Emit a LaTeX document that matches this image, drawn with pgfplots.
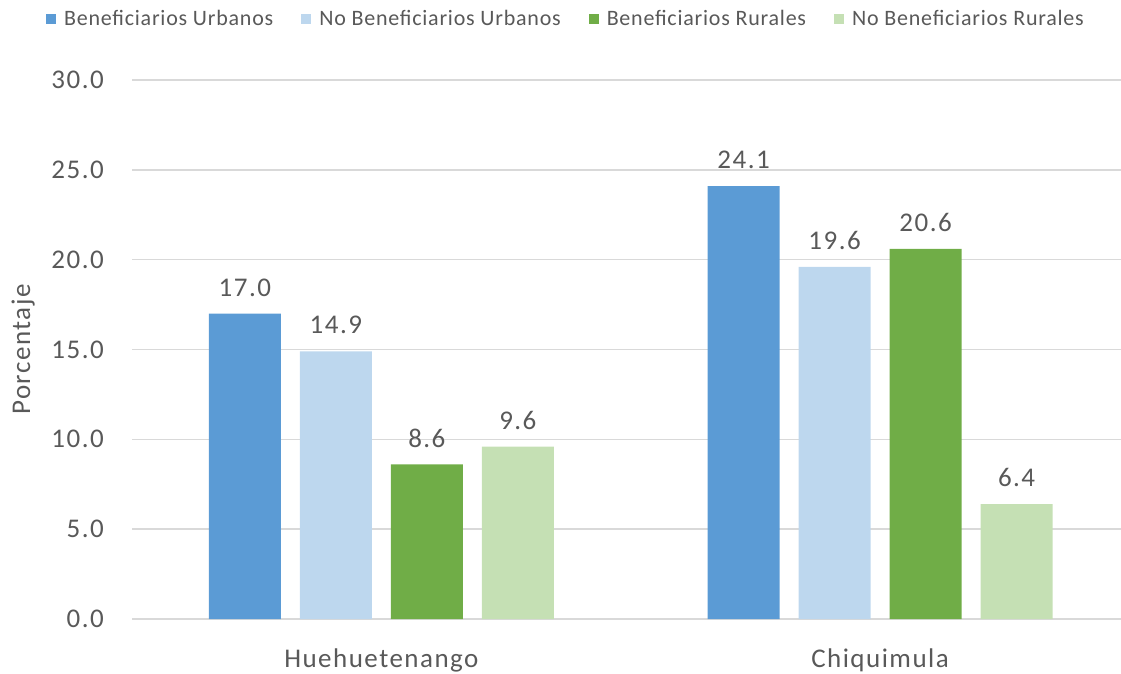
\documentclass[border=0pt]{standalone}
\usepackage{fontspec}
\setmainfont{Carlito}
\newfontfamily\lsA[LetterSpace=5.5]{Carlito}
\newfontfamily\lsB[LetterSpace=3.5]{Carlito}
\usepackage{pgfplots}
\pgfplotsset{compat=1.18}
\definecolor{cA}{HTML}{5B9BD5}
\definecolor{cB}{HTML}{BDD7EE}
\definecolor{cC}{HTML}{70AD47}
\definecolor{cD}{HTML}{C5E0B4}
\definecolor{txt}{HTML}{595959}
\definecolor{grd}{HTML}{D9D9D9}
\begin{document}
\begin{tikzpicture}
\useasboundingbox (0,0) rectangle (1121pt,673pt);
\begin{axis}[
  at={(132pt,54pt)}, anchor=south west,
  scale only axis, width=989pt, height=539pt,
  xmin=-0.5, xmax=1.483, ymin=0, ymax=30,
  ybar=19pt, bar width=72pt,
  xtick={0,1}, xticklabels={Huehuetenango,Chiquimula},
  ytick={0,5,...,30},
  axis line style={draw=none},
  major tick length=0pt,
  ymajorgrids, grid style={color=grd, line width=1.4pt},
  /pgf/number format/assume math mode=true,
  yticklabel={\pgfmathprintnumber[fixed,fixed zerofill,precision=1]{\tick}},
  yticklabel style={font=\lsA\fontsize{27}{30}\selectfont, text=txt, inner sep=0pt, xshift=-28pt},
  xticklabel style={font=\lsA\fontsize{27}{30}\selectfont, text=txt, anchor=base, inner sep=0pt, yshift=-48pt},
  ylabel={Porcentaje},
  ylabel style={font=\lsA\fontsize{27}{30}\selectfont, text=txt, at={(axis description cs:-0.1031,0.5)}, anchor=base, inner sep=0pt},
  nodes near coords={\pgfmathprintnumber[fixed,fixed zerofill,precision=1]{\pgfplotspointmeta}},
  every node near coord/.append style={font=\lsA\fontsize{27}{30}\selectfont, text=txt, anchor=south, inner sep=0pt, yshift=17pt},
  legend columns=4,
  legend style={draw=none, at={(axis description cs:0.4388,1.1132)}, anchor=center,
    font=\lsB\fontsize{22}{24}\selectfont, text=txt, inner sep=0pt,
    /tikz/every odd column/.append style={column sep=6pt},
    /tikz/every even column/.append style={column sep=26pt}},
  legend image code/.code={\fill[#1] (0pt,-5pt) rectangle (10pt,5pt);},
]
\addplot[fill=cA, draw=none] coordinates {(0,17.0) (1,24.1)};
\addplot[fill=cB, draw=none] coordinates {(0,14.9) (1,19.6)};
\addplot[fill=cC, draw=none] coordinates {(0,8.6) (1,20.6)};
\addplot[fill=cD, draw=none] coordinates {(0,9.6) (1,6.4)};
\legend{Beneficiarios Urbanos, No Beneficiarios Urbanos, Beneficiarios Rurales, No Beneficiarios Rurales}
\end{axis}
\end{tikzpicture}
\end{document}
